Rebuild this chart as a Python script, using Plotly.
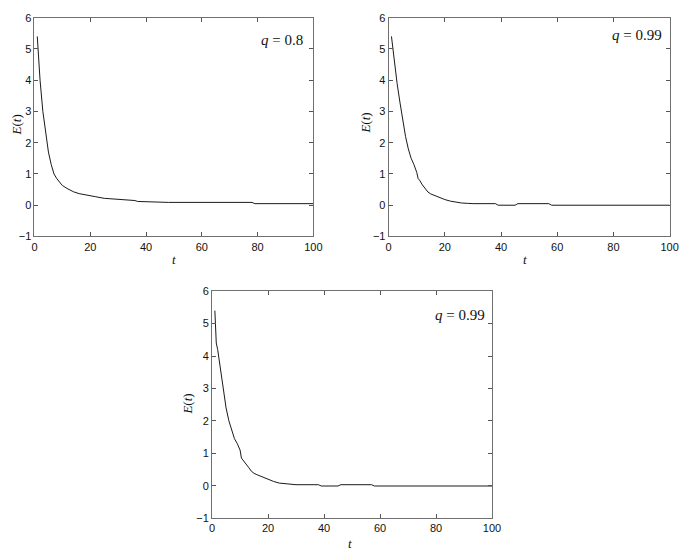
import plotly.graph_objects as go

# ---------------------------------------------------------
# data
# ---------------------------------------------------------
t_a = [1, 2, 3, 4, 5, 6, 7, 8, 9, 10, 12, 14, 16, 18, 20, 22, 25, 30, 35, 36, 37, 47, 48, 78, 79, 100]
e_a = [5.4, 4.0, 3.0, 2.3, 1.7, 1.3, 1.0, 0.85, 0.72, 0.63, 0.52, 0.43, 0.37, 0.33, 0.29, 0.27,
       0.22, 0.19, 0.17, 0.15, 0.12, 0.11, 0.09, 0.09, 0.05, 0.05]

t_b = [1, 2, 3, 4, 5, 6, 7, 8, 9, 10, 10.5, 11, 12, 13, 14, 15, 16, 18, 20, 22, 24, 26, 28, 30,
       38, 39, 45, 46, 57, 58, 100]
e_b = [5.4, 4.6, 3.9, 3.3, 2.7, 2.2, 1.8, 1.5, 1.3, 1.05, 0.85, 0.8, 0.65, 0.52, 0.42, 0.36, 0.32,
       0.25, 0.18, 0.13, 0.09, 0.07, 0.06, 0.05, 0.05, 0.0, 0.0, 0.05, 0.05, 0.0, 0.0]

t_c = [1, 1.5, 2, 3, 4, 5, 6, 7, 8, 9, 10, 10.5, 11, 12, 13, 14, 15, 16, 18, 20, 22, 24, 26, 28, 30,
       38, 39, 45, 46, 57, 58, 100]
e_c = [5.4, 4.4, 4.2, 3.6, 2.9, 2.4, 2.0, 1.7, 1.45, 1.3, 1.1, 0.85, 0.8, 0.7, 0.57, 0.45, 0.38,
       0.34, 0.27, 0.19, 0.13, 0.08, 0.07, 0.05, 0.03, 0.03, -0.01, -0.01, 0.03, 0.03, -0.01, -0.01]

q_labels = ["0.8", "0.99", "0.99"]
x_ticks = [0, 20, 40, 60, 80, 100]
y_ticks = [-1, 0, 1, 2, 3, 4, 5, 6]


# the page shows the figure a little shrunk and offset, so convert
# pixel positions measured on the target into paper coordinates
def px(sx):
    return min(max((sx - 11.6) / 673.75, 0.0), 1.0)


def py(sy):
    return min(max(1.0 - (sy - 17.4) / 536.0, 0.0), 1.0)


# (left, right, top, bottom) in pixels, plus label anchors
panels = [
    dict(box=(35, 313, 21, 237), q=(305, 43), ylab=(17, 127), xlab=(174, 260)),
    dict(box=(388, 668, 21, 237), q=(662, 38), ylab=(364, 125), xlab=(524, 260)),
    dict(box=(212, 491, 291, 515), q=(486, 315), ylab=(188, 402), xlab=(349, 540)),
]

series = [(t_a, e_a), (t_b, e_b), (t_c, e_c)]

serif = "Liberation Serif, Times New Roman, serif"

axis_style = dict(
    showline=True,
    linecolor="#707070",
    linewidth=1,
    mirror="ticks",
    ticks="inside",
    ticklen=4,
    tickcolor="#555555",
    showgrid=False,
    zeroline=False,
    tickfont=dict(family="Liberation Sans, Arial", size=11, color="#111111"),
)

fig = go.Figure()

for i, ((tt, ee), p, q) in enumerate(zip(series, panels, q_labels)):
    n = "" if i == 0 else str(i + 1)
    left, right, top, bottom = p["box"]

    fig.add_trace(
        go.Scatter(
            x=tt,
            y=ee,
            mode="lines",
            line=dict(color="#1a1a1a", width=1),
            xaxis="x" + n,
            yaxis="y" + n,
            showlegend=False,
            hoverinfo="skip",
        )
    )
    fig.layout["xaxis" + n] = dict(
        axis_style, domain=[px(left), px(right)], range=[0, 100],
        tickvals=x_ticks, anchor="y" + n,
    )
    fig.layout["yaxis" + n] = dict(
        axis_style, domain=[py(bottom), py(top)], range=[-1, 6],
        tickvals=y_ticks, anchor="x" + n,
    )

    # q label, top-right inside the frame
    fig.add_annotation(
        x=px(p["q"][0]), y=py(p["q"][1]), xref="paper", yref="paper",
        xanchor="right", yanchor="middle", showarrow=False,
        text="<i>q</i> = " + q,
        font=dict(family=serif, size=15, color="#111111"),
    )
    # y title
    fig.add_annotation(
        x=px(p["ylab"][0]), y=py(p["ylab"][1]), xref="paper", yref="paper",
        xanchor="center", yanchor="middle", showarrow=False, textangle=-90,
        text="<i>E</i>(<i>t</i>)",
        font=dict(family=serif, size=13, color="#111111"),
    )
    # x title
    fig.add_annotation(
        x=px(p["xlab"][0]), y=py(p["xlab"][1]), xref="paper", yref="paper",
        xanchor="center", yanchor="middle", showarrow=False,
        text="<i>t</i>",
        font=dict(family=serif, size=13, color="#111111"),
    )

fig.update_layout(
    width=688,
    height=555,
    margin=dict(l=0, r=0, t=0, b=0),
    paper_bgcolor="white",
    plot_bgcolor="white",
)

fig.write_html("out.html")
